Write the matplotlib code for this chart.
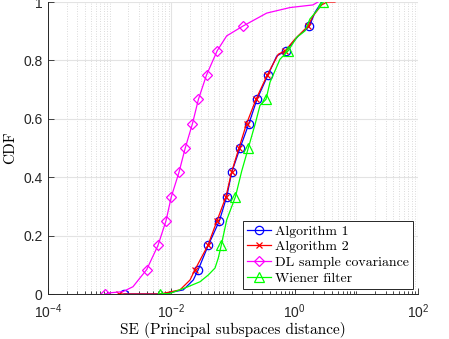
import matplotlib
matplotlib.use("Agg")
import matplotlib.pyplot as plt
import matplotlib.ticker as mticker
import numpy as np

# fonts: ticks sans (matlab style), labels / legend in computer modern
plt.rcParams['font.family'] = ['Liberation Sans', 'DejaVu Sans']
plt.rcParams['mathtext.fontset'] = 'custom'
plt.rcParams['mathtext.rm'] = 'Liberation Sans'
plt.rcParams['axes.unicode_minus'] = False

# --- data (SE value, CDF) ---
alg1_se = [1.71e-3, 7.06e-3, 0.0156, 0.0227, 0.0273, 0.0397, 0.0600, 0.0791, 0.0953,
           0.130, 0.181, 0.245, 0.369, 0.512, 0.722, 1.15, 1.73, 2.14, 2.74]
alg1_cdf = [0, 0, 0.014, 0.048, 0.0833, 0.1667, 0.25, 0.3333, 0.4167,
            0.5, 0.5833, 0.6667, 0.75, 0.815, 0.8333, 0.884, 0.9167, 0.965, 1.0]
alg1_mk = [0, 4, 5, 6, 7, 8, 9, 10, 11, 12, 14, 16]

alg2_se = [1.42e-3, 6.55e-3, 0.0138, 0.0201, 0.0242, 0.0392, 0.0549, 0.0769, 0.0946,
           0.125, 0.166, 0.236, 0.360, 0.542, 0.705, 1.01, 1.63, 2.0, 2.74, 3.34, 4.5]
alg2_cdf = [0, 0, 0.014, 0.048, 0.0833, 0.1667, 0.25, 0.3333, 0.4167,
            0.5, 0.5833, 0.6667, 0.75, 0.821, 0.8333, 0.873, 0.9167, 0.953, 0.99, 1.0, 1.0]
alg2_mk = [0, 4, 5, 6, 7, 8, 9, 10, 11, 12, 14, 16]

dl_se = [8.4e-4, 1.01e-3, 1.64e-3, 2.39e-3, 3.10e-3, 3.98e-3, 6.08e-3, 8.18e-3, 0.0100,
         0.0133, 0.0168, 0.0220, 0.0275, 0.0372, 0.0555, 0.079, 0.1426, 0.352, 0.84, 1.98, 2.39]
dl_cdf = [0, 0.004, 0.008, 0.025, 0.055, 0.0833, 0.1667, 0.25, 0.3333,
          0.4167, 0.5, 0.5833, 0.6667, 0.75, 0.8333, 0.884, 0.9167, 0.962, 0.981, 0.99, 1.0]
dl_mk = [0, 5, 6, 7, 8, 9, 10, 11, 12, 13, 14, 16]

wf_se = [6.43e-3, 9.5e-3, 0.0177, 0.0292, 0.0397, 0.0511, 0.0577, 0.0645, 0.0791, 0.1096,
         0.138, 0.177, 0.228, 0.274, 0.343, 0.398, 0.578, 0.789, 1.08, 1.47, 1.77, 2.28, 2.91]
wf_cdf = [0, 0.002, 0.023, 0.042, 0.065, 0.089, 0.123, 0.1667, 0.254, 0.3333,
          0.420, 0.5, 0.581, 0.646, 0.6667, 0.725, 0.804, 0.8333, 0.879, 0.901, 0.942, 0.970, 1.0]
wf_mk = [0, 7, 9, 11, 14, 17, 22]

fig = plt.figure(figsize=(4.49, 3.39), dpi=100)
ax = fig.add_axes([48/449, 1 - 294/339, 370/449, 292/339])

lw = 0.9
ax.plot(alg1_se, alg1_cdf, '-o', color='b', lw=lw, ms=6, mfc='none', mew=0.9,
        markevery=alg1_mk, label='Algorithm 1')
ax.plot(alg2_se, alg2_cdf, '-x', color='r', lw=lw, ms=5, mew=0.9,
        markevery=alg2_mk, label='Algorithm 2')
ax.plot(dl_se, dl_cdf, '-D', color='#ff00ff', lw=lw, ms=5, mfc='none', mew=0.9,
        markevery=dl_mk, label='DL sample covariance')
ax.plot(wf_se, wf_cdf, '-^', color='#00ff00', lw=lw, ms=6.5, mfc='none', mew=0.9,
        markevery=wf_mk, label='Wiener filter')

ax.set_xscale('log')
ax.set_xlim(1e-4, 1e2)
ax.set_ylim(0, 1)
ax.xaxis.set_major_locator(mticker.FixedLocator([1e-4, 1e-2, 1e0, 1e2]))
ax.xaxis.set_minor_locator(mticker.LogLocator(base=10, subs=np.arange(1, 10), numticks=20))
ax.xaxis.set_minor_formatter(mticker.NullFormatter())
ax.set_yticks([0, 0.2, 0.4, 0.6, 0.8, 1])
ax.set_yticklabels(['0', '0.2', '0.4', '0.6', '0.8', '1'])

ax.grid(True, which='major', color='#e3e3e3', lw=0.8, ls='-')
ax.grid(True, which='minor', axis='x', color='#cfcfcf', lw=0.6, ls=(0, (1, 2)))
ax.set_axisbelow(True)

for s in ['top', 'right']:
    ax.spines[s].set_visible(False)
for s in ['left', 'bottom']:
    ax.spines[s].set_color('#262626')
    ax.spines[s].set_linewidth(0.7)
ax.tick_params(which='both', direction='in', colors='#262626', labelsize=10, width=0.6)
ax.tick_params(which='major', length=4)
ax.tick_params(which='minor', length=2)
ax.tick_params(axis='x', pad=6)
ax.tick_params(axis='y', pad=4)

ax.set_xlabel('SE (Principal subspaces distance)', family='cmr10', fontsize=11, labelpad=1)
ax.set_ylabel('CDF', family='cmr10', fontsize=11, labelpad=4)

leg = ax.legend(loc='lower right', bbox_to_anchor=(0.986, 0.017), borderaxespad=0,
                prop={'family': 'cmr10', 'size': 10}, fancybox=False, framealpha=1,
                edgecolor='#262626', handlelength=1.7, handletextpad=0.3,
                labelspacing=0.22, borderpad=0.3)
leg.get_frame().set_linewidth(0.7)

fig.savefig('out.png', dpi=100)
